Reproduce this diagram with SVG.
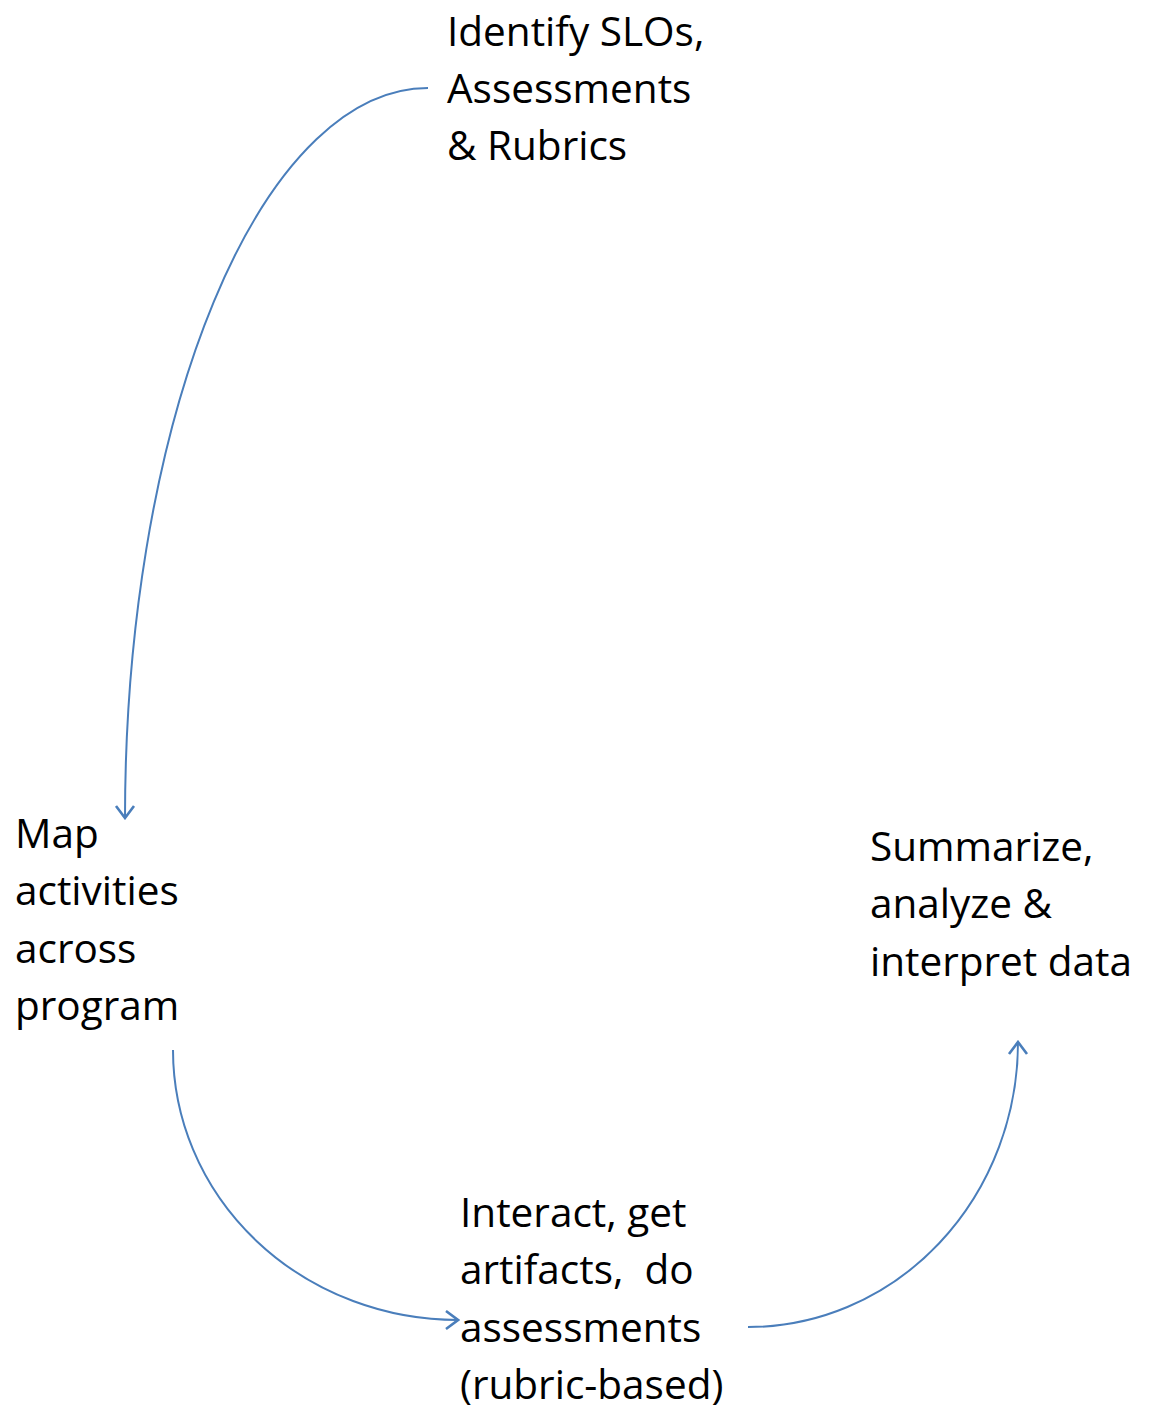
<svg xmlns="http://www.w3.org/2000/svg" width="1153" height="1411" viewBox="0 0 1153 1411">
<style>
.t{font-family:"Open Sans","Liberation Sans",sans-serif;font-size:40.5px;fill:#000;white-space:pre}
.c{fill:none;stroke:#4a7ebb;stroke-width:2}
</style>
<defs>
<marker id="ah" viewBox="-14 -11 16 22" markerWidth="16" markerHeight="22" refX="0" refY="0" orient="auto" markerUnits="userSpaceOnUse">
<path d="M-12,-9 L0,0 L-12,9" fill="none" stroke="#4a7ebb" stroke-width="2.6"/>
</marker>
</defs>
<rect width="1153" height="1411" fill="#fff"/>
<g id="connectors">
<path class="c" d="M428,88 A303,730 0 0 0 125,818" marker-end="url(#ah)"/>
<path class="c" d="M173,1050 A285,270 0 0 0 458,1320" marker-end="url(#ah)"/>
<path class="c" d="M748,1327 A270,285 0 0 0 1018,1042" marker-end="url(#ah)"/>
</g>
<g id="identify">
<text class="t" x="447" y="46">Identify SLOs,</text>
<text class="t" x="447" y="103">Assessments</text>
<text class="t" x="447" y="160">&amp; Rubrics</text>
</g>
<g id="map">
<text class="t" x="15" y="848">Map</text>
<text class="t" x="15" y="905">activities</text>
<text class="t" x="15" y="963">across</text>
<text class="t" x="15" y="1020">program</text>
</g>
<g id="summarize">
<text class="t" x="870" y="861">Summarize,</text>
<text class="t" x="870" y="918">analyze &amp;</text>
<text class="t" x="870" y="976">interpret data</text>
</g>
<g id="interact">
<text class="t" x="460" y="1227">Interact, get</text>
<text class="t" x="460" y="1284" xml:space="preserve">artifacts,  do</text>
<text class="t" x="460" y="1342">assessments</text>
<text class="t" x="460" y="1399">(rubric-based)</text>
</g>
</svg>
